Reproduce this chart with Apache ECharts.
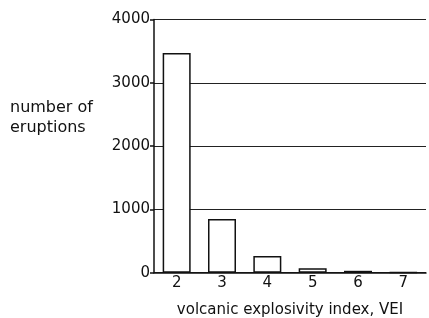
<!DOCTYPE html>
<html>
<head>
<meta charset="utf-8">
<script src="https://cdn.jsdelivr.net/npm/echarts@6/dist/echarts.min.js"></script>
<style>html,body{margin:0;padding:0;background:#fff;}#c{width:429px;height:318px;}</style>
</head>
<body>
<div id="c"></div>
<script>
var categories = ['2', '3', '4', '5', '6', '7'];
var eruptions = [3470, 850, 265, 70, 30, 8];
var yTicks = [0, 1000, 2000, 3000, 4000];
var xTitle = 'volcanic explosivity index, VEI';
var yTitle = 'number of\neruptions';

var chart = echarts.init(document.getElementById('c'), null, {renderer: 'canvas'});
var font = 'DejaVu Sans';
chart.setOption({
  animation: false,
  backgroundColor: '#fff',
  grid: {left: 154, right: 3, top: 19.5, bottom: 45.3, outerBoundsMode: 'none', containLabel: false},
  graphic: [{
    type: 'text', left: 10, top: 98,
    style: {text: yTitle, font: '16px "DejaVu Sans"', fill: '#111', lineHeight: 20}
  }],
  xAxis: {
    type: 'category',
    data: categories,
    name: xTitle,
    nameLocation: 'middle',
    nameGap: 30,
    nameTextStyle: {fontFamily: font, fontSize: 15, color: '#111'},
    axisLine: {lineStyle: {color: '#111', width: 1.5}},
    axisTick: {show: false},
    axisLabel: {fontFamily: font, fontSize: 15, color: '#111', margin: 3}
  },
  yAxis: {
    type: 'value',
    min: yTicks[0], max: yTicks[yTicks.length - 1], interval: 1000,
    axisLine: {show: true, lineStyle: {color: '#111', width: 1.5}},
    axisTick: {show: true, length: 4, lineStyle: {color: '#111', width: 1.5}},
    axisLabel: {fontFamily: font, fontSize: 15, color: '#111', margin: 4,
      formatter: function (v) { return String(v); }},
    splitLine: {show: true, lineStyle: {color: '#222', width: 1}}
  },
  series: [{
    type: 'bar',
    data: eruptions,
    barWidth: 28,
    itemStyle: {color: '#fff', borderColor: '#111', borderWidth: 1.5}
  }]
});
</script>
</body>
</html>
